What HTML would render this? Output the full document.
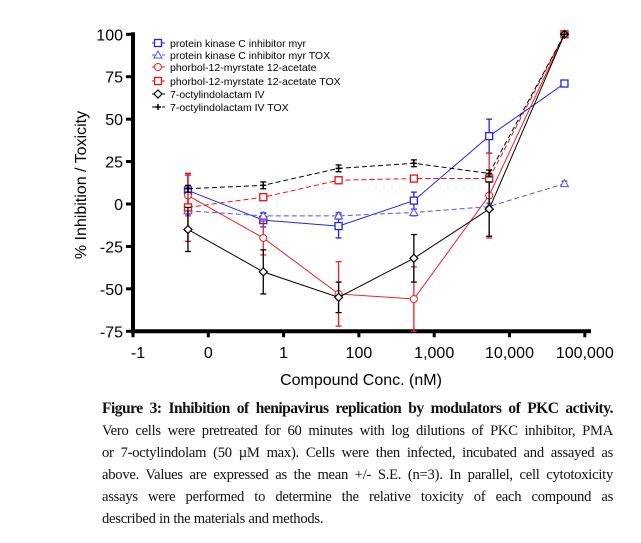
<!DOCTYPE html>
<html><head><meta charset="utf-8"><style>
body{margin:0;background:#fff;width:641px;height:543px;overflow:hidden;position:relative}
#cap{position:absolute;left:102px;top:398px;width:511px;font-family:"Liberation Serif",serif;font-size:14.6px;line-height:22px;color:#111}
#cap div{text-align:justify;text-align-last:justify;white-space:nowrap;letter-spacing:-0.25px}
#cap div.last{text-align-last:left}
#cap b{font-size:15.5px;letter-spacing:-0.5px}
</style></head><body>
<svg id="chart" width="641" height="395" style="position:absolute;left:0;top:0" font-family="Liberation Sans, sans-serif"></svg>
<div id="cap">
<div><b>Figure 3: Inhibition of henipavirus replication by modulators of PKC activity.</b></div>
<div>Vero cells were pretreated for 60 minutes with log dilutions of PKC inhibitor, PMA</div>
<div>or 7-octylindolam (50 µM max). Cells were then infected, incubated and assayed as</div>
<div>above. Values are expressed as the mean +/- S.E. (n=3). In parallel, cell cytotoxicity</div>
<div>assays were performed to determine the relative toxicity of each compound as</div>
<div class="last">described in the materials and methods.</div>
</div>
<script>
const xTicks=["-1","0","1","100","1,000","10,000","100,000"];
const yTicks=[-75,-50,-25,0,25,50,75,100];
const xPos=[0.73,1.73,2.73,3.73,4.73,5.73];
const pkc=[8,-9.5,-13,2,40,71], pkcErr=[10,4,7,5,10,0];
const pkcTox=[-4,-7,-7,-5,-1.5,12], pkcToxErr=[2,2,2,2,2,1.5];
const pma=[5,-20,-53,-56,5,100], pmaErr=[12,10,19,19,25,0];
const pmaTox=[-2,4,14,15,15,100], pmaToxErr=[20,2,2,2,2,0];
const oct=[-15,-40,-55,-32,-3,100], octErr=[13,13,9,14,16,0];
const octTox=[9,11,21,24,18,100], octToxErr=[2,2,2,2,2,0];
const svg=document.getElementById('chart');const NS='http://www.w3.org/2000/svg';
function X(t){return 133+t*75.3;}
function Y(v){return 204-v*1.697;}
function el(tag,a,p){const e=document.createElementNS(NS,tag);for(const k in a)e.setAttribute(k,a[k]);(p||svg).appendChild(e);return e;}
let ax=el('line',{x1:131,y1:Y(-75),x2:591,y2:Y(-75),stroke:'#000','stroke-width':4});


let ay=el('line',{x1:133,y1:Y(100)-2,x2:133,y2:Y(-75)+2,stroke:'#000','stroke-width':4});


yTicks.forEach(v=>{el('line',{x1:126,x2:133,y1:Y(v),y2:Y(v),stroke:'#000','stroke-width':3});
 const t=el('text',{x:123,y:Y(v)+6,'text-anchor':'end','font-size':16});t.textContent=v;
 
 });
xTicks.forEach((s,i)=>{el('line',{x1:X(i),x2:X(i),y1:Y(-75),y2:Y(-75)+6,stroke:'#000','stroke-width':3});
 const t=el('text',{x:X(i)+(i==0?5:0),y:358,'text-anchor':'middle','font-size':16});t.textContent=s;
 
 });
let xt=el('text',{x:361,y:385,'text-anchor':'middle','font-size':16});xt.textContent='Compound Conc. (nM)';


let yt=el('text',{x:0,y:0,'text-anchor':'middle','font-size':16,transform:'translate(86,185) rotate(-90)'});yt.textContent='% Inhibition / Toxicity';


function marker(g,m,x,y,c){
 if(m=='sq')el('rect',{x:x-3.5,y:y-3.5,width:7,height:7,fill:'#fff',stroke:c,'stroke-width':1.3},g);
 else if(m=='tri')el('polygon',{points:`${x},${y-4} ${x-4},${y+3} ${x+4},${y+3}`,fill:'#fff',stroke:c,'stroke-width':1},g);
 else if(m=='cir')el('circle',{cx:x,cy:y,r:3.5,fill:'#fff',stroke:c,'stroke-width':1},g);
 else if(m=='dia')el('polygon',{points:`${x},${y-4} ${x+4},${y} ${x},${y+4} ${x-4},${y}`,fill:'#fff',stroke:c,'stroke-width':1.2},g);
 else{el('line',{x1:x-3,x2:x+3,y1:y,y2:y,stroke:c,'stroke-width':1.5},g);el('line',{x1:x,x2:x,y1:y-3,y2:y+3,stroke:c,'stroke-width':1.5},g);}
}
const series=[
 ['pkc-inhibitor-myr',pkc,pkcErr,'#2222ee','sq',null,'protein kinase C inhibitor myr'],
 ['pkc-inhibitor-myr-tox',pkcTox,pkcToxErr,'#5555ee','tri','5,3','protein kinase C inhibitor myr TOX'],
 ['pma',pma,pmaErr,'#ee2222','cir',null,'phorbol-12-myrstate 12-acetate'],
 ['pma-tox',pmaTox,pmaToxErr,'#ee1111','sq','5,3','phorbol-12-myrstate 12-acetate TOX'],
 ['octylindolactam',oct,octErr,'#000','dia',null,'7-octylindolactam IV'],
 ['octylindolactam-tox',octTox,octToxErr,'#000','star','5,3','7-octylindolactam IV TOX']];
series.forEach(([n,v,e,c,m,d],si)=>{
 const g=el('g',{});
 
 
 const pts=v.map((y,i)=>X(xPos[i])+','+Y(y)).join(' ');
 const pl=el('polyline',{points:pts,fill:'none',stroke:c,'stroke-width':1});if(d)pl.setAttribute('stroke-dasharray',d);g.appendChild(pl);
 v.forEach((y,i)=>{if(e[i]>0){const x=X(xPos[i]);
  el('line',{x1:x,x2:x,y1:Y(y-e[i]),y2:Y(y+e[i]),stroke:c,'stroke-width':1.3},g);
  el('line',{x1:x-3,x2:x+3,y1:Y(y-e[i]),y2:Y(y-e[i]),stroke:c,'stroke-width':1.3},g);
  el('line',{x1:x-3,x2:x+3,y1:Y(y+e[i]),y2:Y(y+e[i]),stroke:c,'stroke-width':1.3},g);}
  marker(g,m,X(xPos[i]),Y(y),c);});
});
const lg=el('g',{});


const ly=[43,55,67,81,94,107];
series.forEach(([n,v,e,c,m,d,label],i)=>{
 const l=el('line',{x1:152,x2:165,y1:ly[i],y2:ly[i],stroke:c,'stroke-width':1},lg);if(d)l.setAttribute('stroke-dasharray','3,2');
 marker(lg,m,158,ly[i],c);
 const t=el('text',{x:170,y:ly[i]+4,'font-size':10.5},lg);t.textContent=label;
 
 
});
</script>
</body></html>
